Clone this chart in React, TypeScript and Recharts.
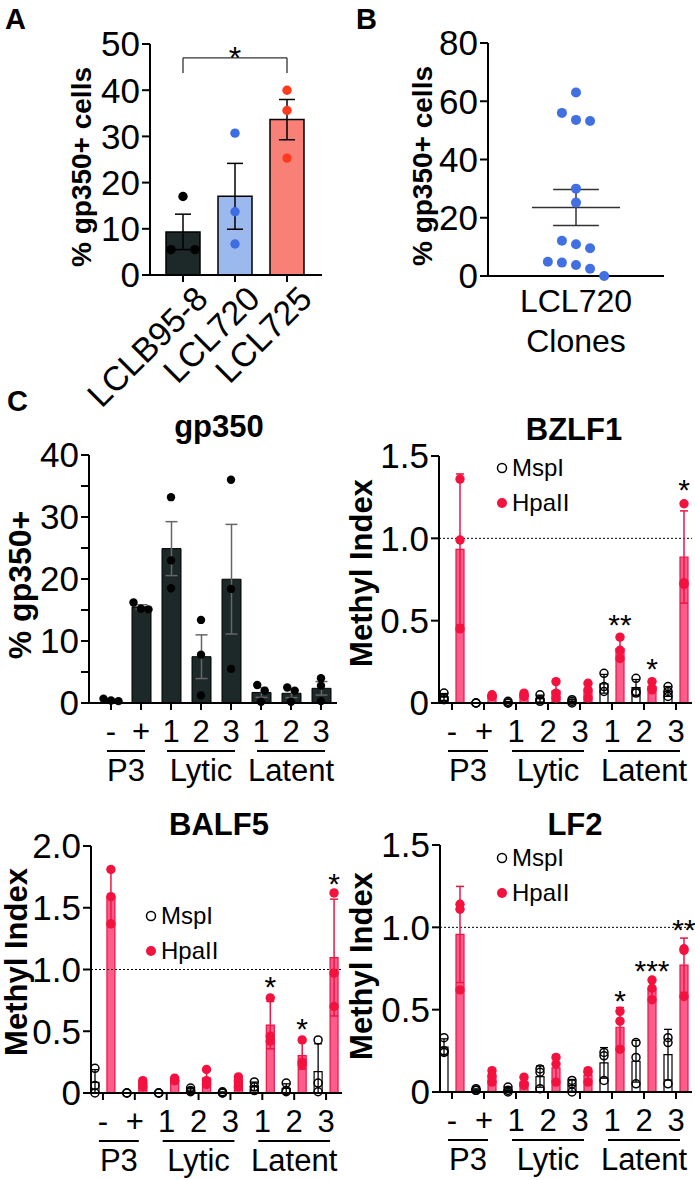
import React from 'react';
import {
  Bar,
  Cell,
  ComposedChart,
  ErrorBar,
  Legend,
  ReferenceLine,
  Scatter,
  ScatterChart,
  XAxis,
  YAxis,
} from 'recharts';

const FONT = '"Liberation Sans", Arial, Helvetica, sans-serif';
const AXIS = { stroke: '#000', strokeWidth: 2 };
const TICK = { fill: '#000', fontSize: 35 };
const HPA_RED = '#f2113f';

// A: % gp350+ cells per LCL (bars = mean +/- SEM)
const lclNames = ['LCLB95-8', 'LCL720', 'LCL725'];
const lclValues = [
  [17.0, 5.5, 5.5],
  [30.7, 13.7, 6.7],
  [40.0, 35.6, 25.3],
];
const lclBarColors = ['#1d2828', '#9bb9ec', '#f98077'];
const lclDotColors = ['#000000', '#3d6de3', '#ff3a1e'];

// B: LCL720 clones
const cloneLabel = ['LCL720', 'Clones'];
const cloneValues = [63, 56, 53.6, 53.2, 30, 25.2, 12.1, 10.9, 9.5, 4.9, 4.6, 3.8, 2.5, 0];

// C: groups shared by the four panels
const groupLabels = ['-', '+', '1', '2', '3', '1', '2', '3'];
const groupSets = [
  { label: 'P3', from: 0, to: 1 },
  { label: 'Lytic', from: 2, to: 4 },
  { label: 'Latent', from: 5, to: 7 },
];
const enzymes = ['MspI', 'HpaII'];

const gp350Values = [
  [0.7, 0.4, 0.3],
  [16.2, 15.2, 15.1],
  [33.2, 23.0, 18.5],
  [13.4, 7.8, 1.2],
  [36.0, 18.4, 5.5],
  [2.9, 2.0, 0.2],
  [2.5, 2.0, 0.2],
  [4.0, 2.8, 0.3],
];

const bzlf1Msp = [
  [0.06, 0.03, 0.02],
  [0.0, 0.0, 0.0],
  [0.01, 0.0, 0.0],
  [0.05, 0.02, 0.01],
  [0.02, 0.01, 0.0],
  [0.18, 0.1, 0.07],
  [0.15, 0.07, 0.06],
  [0.1, 0.07, 0.04],
];
const bzlf1Hpa = [
  [1.36, 0.99, 0.45],
  [0.05, 0.04, 0.04],
  [0.06, 0.05, 0.04],
  [0.13, 0.06, 0.03],
  [0.12, 0.08, 0.03],
  [0.4, 0.32, 0.27],
  [0.13, 0.09, 0.08],
  [1.21, 0.73, 0.72],
];
const bzlf1Stars = [
  { group: 5, y: 0.52, text: '**' },
  { group: 6, y: 0.25, text: '*' },
  { group: 7, y: 1.34, text: '*' },
];

const balf5Msp = [
  [0.2, 0.06, 0.0],
  [0.0, 0.0, 0.0],
  [0.0, 0.0, 0.0],
  [0.04, 0.02, 0.01],
  [0.01, 0.0, 0.0],
  [0.09, 0.05, 0.02],
  [0.08, 0.02, 0.01],
  [0.43, 0.08, 0.01],
];
const balf5Hpa = [
  [1.81, 1.59, 1.37],
  [0.1, 0.08, 0.05],
  [0.12, 0.1, 0.1],
  [0.19, 0.1, 0.07],
  [0.13, 0.1, 0.05],
  [0.77, 0.46, 0.42],
  [0.43, 0.25, 0.23],
  [1.62, 0.97, 0.7],
];
const balf5Stars = [
  { group: 5, y: 0.92, text: '*' },
  { group: 6, y: 0.58, text: '*' },
  { group: 7, y: 1.75, text: '*' },
];

const lf2Msp = [
  [0.33, 0.25, 0.24],
  [0.02, 0.01, 0.01],
  [0.03, 0.01, 0.0],
  [0.14, 0.12, 0.02],
  [0.07, 0.05, 0.0],
  [0.24, 0.22, 0.07],
  [0.3, 0.21, 0.05],
  [0.33, 0.3, 0.05],
];
const lf2Hpa = [
  [1.14, 1.11, 0.62],
  [0.13, 0.1, 0.06],
  [0.09, 0.05, 0.04],
  [0.21, 0.17, 0.06],
  [0.13, 0.12, 0.06],
  [0.49, 0.43, 0.26],
  [0.68, 0.63, 0.56],
  [0.87, 0.86, 0.58],
];
const lf2Stars = [
  { group: 5, y: 0.6, text: '*' },
  { group: 6, y: 0.78, text: '***' },
  { group: 7, y: 1.03, text: '**' },
];

function mean(v: number[]) {
  return v.reduce((s, x) => s + x, 0) / v.length;
}
function sd(v: number[]) {
  const m = mean(v);
  return Math.sqrt(v.reduce((s, x) => s + (x - m) ** 2, 0) / (v.length - 1));
}
function sem(v: number[]) {
  return sd(v) / Math.sqrt(v.length);
}
function sdRange(v: number[]) {
  const m = mean(v);
  const s = sd(v);
  return s > 0 ? [Math.min(s, m), s] : undefined;
}

// points closer than `gap` (value units) form a row that is spread sideways
function spread(values: number[], gap: number, step: number): number[] {
  const order = values.map((_, i) => i).sort((a, b) => values[b] - values[a]);
  const out = new Array(values.length).fill(0);
  let row: number[] = [];
  const flush = () => {
    row.forEach((idx, k) => {
      out[idx] = (k - (row.length - 1) / 2) * step;
    });
    row = [];
  };
  order.forEach((idx) => {
    if (row.length && values[row[row.length - 1]] - values[idx] >= gap) flush();
    row.push(idx);
  });
  flush();
  return out;
}

const dot = (r: number, fill: string, stroke = 'none') => (p: any) => (
  <circle cx={p.cx} cy={p.cy} r={r} fill={fill} stroke={stroke} strokeWidth={1.5} />
);

const star = (size: number) => (p: any) => (
  <text x={p.cx} y={p.cy + size * 0.58} textAnchor="middle" fontSize={size} fill="#000">
    {p.payload.text}
  </text>
);

function RotatedTick(props: any) {
  const { x, y, payload } = props;
  const px = x + 10;
  return (
    <text
      x={px}
      y={y}
      dy="0.7em"
      textAnchor="end"
      transform={`rotate(-45, ${px}, ${y})`}
      fontSize={34}
      fill="#000"
    >
      {payload.value}
    </text>
  );
}

function groupTick(bandPx: number) {
  return (props: any) => {
    const { x, y, payload } = props;
    const g = payload.value as number;
    const set = groupSets.find((s) => s.from === g);
    const span = set ? (set.to - set.from) * bandPx : 0;
    return (
      <g fill="#000" fontSize={31}>
        <text x={x} y={y + 32} textAnchor="middle">
          {groupLabels[g]}
        </text>
        {set && (
          <>
            <line x1={x - 4} x2={x + span + 4} y1={y + 41} y2={y + 41} stroke="#000" strokeWidth={2} />
            <text x={x + span / 2} y={y + 71} textAnchor="middle">
              {set.label}
            </text>
          </>
        )}
      </g>
    );
  };
}

function PanelA() {
  const rows = lclNames.map((name, i) => ({ name, mean: mean(lclValues[i]), err: sem(lclValues[i]) }));
  const pad = { left: 7, right: 9 };
  return (
    <ComposedChart width={340} height={430} data={rows} margin={{ top: 44, right: 18, bottom: 0, left: 0 }}>
      <XAxis
        xAxisId="cat"
        dataKey="name"
        type="category"
        padding={pad}
        height={155}
        interval={0}
        tickSize={7}
        axisLine={AXIS}
        tickLine={AXIS}
        tick={(p: any) => <RotatedTick {...p} />}
      />
      <XAxis xAxisId="pts" dataKey="x" type="number" domain={[-0.5, 2.5]} padding={pad} hide />
      <YAxis
        domain={[0, 50]}
        ticks={[0, 10, 20, 30, 40, 50]}
        interval={0}
        width={150}
        tickSize={8}
        tickMargin={2}
        axisLine={AXIS}
        tickLine={AXIS}
        tick={TICK}
      />
      <Bar xAxisId="cat" dataKey="mean" barSize={34} stroke="#000" strokeWidth={1.5} isAnimationActive={false}>
        {rows.map((r, i) => (
          <Cell key={r.name} fill={lclBarColors[i]} />
        ))}
        <ErrorBar dataKey="err" width={8} stroke="#000" strokeWidth={1.5} />
      </Bar>
      {lclValues.map((vals, i) => {
        const off = spread(vals, 2, 0.46);
        const data = vals.map((v, k) => ({ x: i + off[k], y: v }));
        return (
          <Scatter
            key={lclNames[i]}
            xAxisId="pts"
            data={data}
            dataKey="y"
            fill={lclDotColors[i]}
            shape={dot(4.7, lclDotColors[i])}
            isAnimationActive={false}
          />
        );
      })}
      <ReferenceLine xAxisId="pts" segment={[{ x: 0, y: 43.7 }, { x: 0, y: 47 }]} stroke="#333" strokeWidth={1.3} />
      <ReferenceLine xAxisId="pts" segment={[{ x: 0, y: 47 }, { x: 2, y: 47 }]} stroke="#333" strokeWidth={1.3} />
      <ReferenceLine xAxisId="pts" segment={[{ x: 2, y: 47 }, { x: 2, y: 43.7 }]} stroke="#333" strokeWidth={1.3} />
      <Scatter
        xAxisId="pts"
        data={[{ x: 1, y: 48.7, text: '*' }]}
        dataKey="y"
        shape={star(32)}
        isAnimationActive={false}
      />
    </ComposedChart>
  );
}

function PanelB() {
  const off = spread(cloneValues, 3.4, 0.16);
  const pts = cloneValues.map((v, i) => ({ x: off[i], y: v }));
  const m = mean(cloneValues);
  const s = sem(cloneValues);
  const line = { stroke: '#333', strokeWidth: 1.5 };
  return (
    <ScatterChart width={340} height={400} margin={{ top: 43, right: 16, bottom: 0, left: 0 }}>
      <XAxis
        type="number"
        dataKey="x"
        domain={[-1, 1]}
        ticks={[0]}
        interval={0}
        tickSize={0}
        tickMargin={0}
        height={124}
        axisLine={AXIS}
        tickLine={false}
        tick={(p: any) => (
          <g fill="#000" fontSize={32}>
            <text x={p.x} y={p.y + 36} textAnchor="middle">
              {cloneLabel[0]}
            </text>
            <text x={p.x} y={p.y + 76} textAnchor="middle">
              {cloneLabel[1]}
            </text>
          </g>
        )}
      />
      <YAxis
        type="number"
        dataKey="y"
        domain={[0, 80]}
        ticks={[0, 20, 40, 60, 80]}
        interval={0}
        width={148}
        tickSize={8}
        tickMargin={2}
        axisLine={AXIS}
        tickLine={AXIS}
        tick={TICK}
      />
      <Scatter data={pts} fill="#4170e3" shape={dot(5, '#4170e3')} isAnimationActive={false} />
      <ReferenceLine segment={[{ x: -0.5, y: m }, { x: 0.5, y: m }]} {...line} />
      <ReferenceLine segment={[{ x: 0, y: m - s }, { x: 0, y: m + s }]} {...line} />
      <ReferenceLine segment={[{ x: -0.26, y: m + s }, { x: 0.26, y: m + s }]} {...line} />
      <ReferenceLine segment={[{ x: -0.26, y: m - s }, { x: 0.26, y: m - s }]} {...line} />
    </ScatterChart>
  );
}

function PanelGp350() {
  const rows = gp350Values.map((v, i) => ({ slot: i, mean: mean(v), err: sem(v) }));
  const pts = gp350Values.flatMap((v, i) => {
    const off = spread(v, 1.15, 0.25);
    return v.map((y, k) => ({ x: i + off[k], y }));
  });
  const pad = { left: 7, right: 1 };
  const width = 345;
  const yw = 89;
  const mr = 8;
  const band = (width - yw - mr - pad.left - pad.right) / groupLabels.length;
  return (
    <ComposedChart width={width} height={400} data={rows} margin={{ top: 55, right: mr, bottom: 0, left: 0 }}>
      <XAxis xAxisId="slot" dataKey="slot" type="category" padding={pad} hide />
      <XAxis
        dataKey="x"
        type="number"
        domain={[-0.5, 7.5]}
        ticks={groupLabels.map((_, i) => i)}
        interval={0}
        padding={pad}
        height={97}
        tickSize={7}
        tickMargin={0}
        axisLine={AXIS}
        tickLine={AXIS}
        tick={groupTick(band)}
      />
      <YAxis
        domain={[0, 40]}
        ticks={[0, 5, 10, 15, 20, 25, 30, 35, 40]}
        interval={0}
        width={yw}
        tickSize={8}
        tickMargin={2}
        axisLine={AXIS}
        tickLine={AXIS}
        tick={(p: any) =>
          p.payload.value % 10 === 0 ? (
            <text x={p.x} y={p.y} dy="0.355em" textAnchor="end" fontSize={TICK.fontSize} fill="#000">
              {p.payload.value}
            </text>
          ) : (
            <g />
          )
        }
      />
      <Bar xAxisId="slot" dataKey="mean" barSize={19} fill="#1d2828" stroke="#000" strokeWidth={1} isAnimationActive={false}>
        <ErrorBar dataKey="err" width={6} stroke="#666" strokeWidth={1.5} />
      </Bar>
      <Scatter data={pts} dataKey="y" fill="#000" shape={dot(4.2, '#000')} isAnimationActive={false} />
    </ComposedChart>
  );
}

function MethylLegend(props: any) {
  const items = (props.payload || [])
    .filter((e: any) => enzymes.includes(e.value))
    .sort((a: any, b: any) => enzymes.indexOf(a.value) - enzymes.indexOf(b.value));
  return (
    <div style={{ fontSize: 24, lineHeight: '35px', color: '#000', fontFamily: FONT }}>
      {items.map((e: any) => (
        <div key={e.value} style={{ display: 'flex', alignItems: 'center', height: 35 }}>
          <svg width={14} height={14} style={{ marginRight: 3 }}>
            {e.value === enzymes[0] ? (
              <circle cx={7} cy={7} r={4.5} fill="none" stroke="#000" strokeWidth={1.5} />
            ) : (
              <circle cx={7} cy={7} r={5} fill={HPA_RED} />
            )}
          </svg>
          <span>{e.value}</span>
        </div>
      ))}
    </div>
  );
}

type MethylProps = {
  msp: number[][];
  hpa: number[][];
  stars: { group: number; y: number; text: string }[];
  yMax: number;
  width: number;
  height: number;
  yw: number;
  top: number;
  padLeft: number;
  legendAt: [number, number];
};

function MethylPanel({ msp, hpa, stars, yMax, width, height, yw, top, padLeft, legendAt }: MethylProps) {
  const rows = msp.flatMap((m, g) => [
    { slot: 2 * g, kind: 'msp', mean: mean(m), errMsp: sdRange(m) },
    { slot: 2 * g + 1, kind: 'hpa', mean: mean(hpa[g]), errHpa: sdRange(hpa[g]) },
  ]);
  const mspPts = msp.flatMap((v, g) => v.map((y) => ({ x: g - 0.25, y })));
  const hpaPts = hpa.flatMap((v, g) => v.map((y) => ({ x: g + 0.25, y })));
  const starPts = stars.map((s) => ({ x: s.group + 0.25, y: s.y, text: s.text }));
  const yTicks = Array.from({ length: Math.round(yMax / 0.5) + 1 }, (_, i) => i * 0.5);
  const mr = 3;
  const pad = { left: padLeft, right: 0 };
  const band = (width - yw - mr - pad.left - pad.right) / groupLabels.length;
  return (
    <ComposedChart width={width} height={height} data={rows} margin={{ top, right: mr, bottom: 0, left: 0 }}>
      <XAxis xAxisId="slot" dataKey="slot" type="category" padding={pad} hide />
      <XAxis
        dataKey="x"
        type="number"
        domain={[-0.5, 7.5]}
        ticks={groupLabels.map((_, i) => i)}
        interval={0}
        padding={pad}
        height={height - top - 247}
        tickSize={7}
        tickMargin={0}
        axisLine={AXIS}
        tickLine={AXIS}
        tick={groupTick(band)}
      />
      <YAxis
        domain={[0, yMax]}
        ticks={yTicks}
        interval={0}
        width={yw}
        tickSize={8}
        tickMargin={2}
        axisLine={AXIS}
        tickLine={AXIS}
        tick={TICK}
        tickFormatter={(v: number) => (v === 0 ? '0' : v.toFixed(1))}
      />
      <ReferenceLine y={1} stroke="#000" strokeWidth={1} strokeDasharray="2 2" />
      <Bar xAxisId="slot" dataKey="mean" barSize={8} legendType="none" isAnimationActive={false}>
        {rows.map((r) => (
          <Cell
            key={r.slot}
            fill={r.kind === 'msp' ? '#ffffff' : '#ff5c8e'}
            stroke={r.kind === 'msp' ? '#000' : '#ee1443'}
            strokeWidth={1.2}
          />
        ))}
        <ErrorBar dataKey="errMsp" width={4} stroke="#000" strokeWidth={1.3} />
        <ErrorBar dataKey="errHpa" width={4} stroke="#ee1443" strokeWidth={1.5} />
      </Bar>
      <Scatter name={enzymes[0]} data={mspPts} dataKey="y" fill="#000" shape={dot(4, 'none', '#000')} isAnimationActive={false} />
      <Scatter name={enzymes[1]} data={hpaPts} dataKey="y" fill={HPA_RED} shape={dot(4.7, HPA_RED)} isAnimationActive={false} />
      <Scatter data={starPts} dataKey="y" legendType="none" shape={star(30)} isAnimationActive={false} />
      <Legend
        layout="vertical"
        align="center"
        verticalAlign="middle"
        content={MethylLegend}
        wrapperStyle={{ left: legendAt[0], top: legendAt[1], width: 'auto', height: 'auto' }}
      />
    </ComposedChart>
  );
}

const titleStyle = { fontSize: 31, fontWeight: 700 };
const yTitle = { fontSize: 31, fontWeight: 700, textAnchor: 'middle' as const };

export default function App() {
  return (
    <div
      style={{
        position: 'absolute',
        left: 0,
        top: 0,
        width: 695,
        height: 1180,
        background: '#fff',
        overflow: 'hidden',
        fontFamily: FONT,
      }}
    >
      <div style={{ position: 'absolute', left: 0, top: 0 }}>
        <PanelA />
      </div>
      <div style={{ position: 'absolute', left: 340, top: 0 }}>
        <PanelB />
      </div>
      <div style={{ position: 'absolute', left: 0, top: 400 }}>
        <PanelGp350 />
      </div>
      <div style={{ position: 'absolute', left: 345, top: 400 }}>
        <MethylPanel msp={bzlf1Msp} hpa={bzlf1Hpa} stars={bzlf1Stars} yMax={1.5} width={350} height={400} yw={94} top={56} padLeft={-3} legendAt={[150, 50]} />
      </div>
      <div style={{ position: 'absolute', left: 0, top: 790 }}>
        <MethylPanel msp={balf5Msp} hpa={balf5Hpa} stars={balf5Stars} yMax={2} width={345} height={390} yw={91} top={56} padLeft={-4} legendAt={[144, 108]} />
      </div>
      <div style={{ position: 'absolute', left: 345, top: 790 }}>
        <MethylPanel msp={lf2Msp} hpa={lf2Hpa} stars={lf2Stars} yMax={1.5} width={350} height={390} yw={95} top={55} padLeft={-4} legendAt={[150, 50]} />
      </div>
      <svg
        width={695}
        height={1180}
        style={{ position: 'absolute', left: 0, top: 0, pointerEvents: 'none' }}
        fontFamily={FONT}
        fill="#000"
      >
        <text x={5} y={29} fontSize={29} fontWeight={700}>A</text>
        <text x={356} y={29} fontSize={29} fontWeight={700}>B</text>
        <text x={7} y={411} fontSize={29} fontWeight={700}>C</text>
        <text x={91} y={167} fontSize={28} fontWeight={700} textAnchor="middle" transform="rotate(-90, 91, 167)">
          % gp350+ cells
        </text>
        <text x={432} y={166} fontSize={28} fontWeight={700} textAnchor="middle" transform="rotate(-90, 432, 166)">
          % gp350+ cells
        </text>
        <text x={31} y={585} {...yTitle} fontSize={32} transform="rotate(-90, 31, 585)">
          % gp350+
        </text>
        <text x={372} y={573} {...yTitle} transform="rotate(-90, 372, 573)">
          Methyl Index
        </text>
        <text x={27} y={962} {...yTitle} transform="rotate(-90, 27, 962)">
          Methyl Index
        </text>
        <text x={372} y={966} {...yTitle} transform="rotate(-90, 372, 966)">
          Methyl Index
        </text>
        <text x={219} y={437} textAnchor="middle" {...titleStyle}>gp350</text>
        <text x={574} y={440} textAnchor="middle" {...titleStyle}>BZLF1</text>
        <text x={219} y={835} textAnchor="middle" {...titleStyle}>BALF5</text>
        <text x={575} y={835} textAnchor="middle" {...titleStyle}>LF2</text>
      </svg>
    </div>
  );
}
